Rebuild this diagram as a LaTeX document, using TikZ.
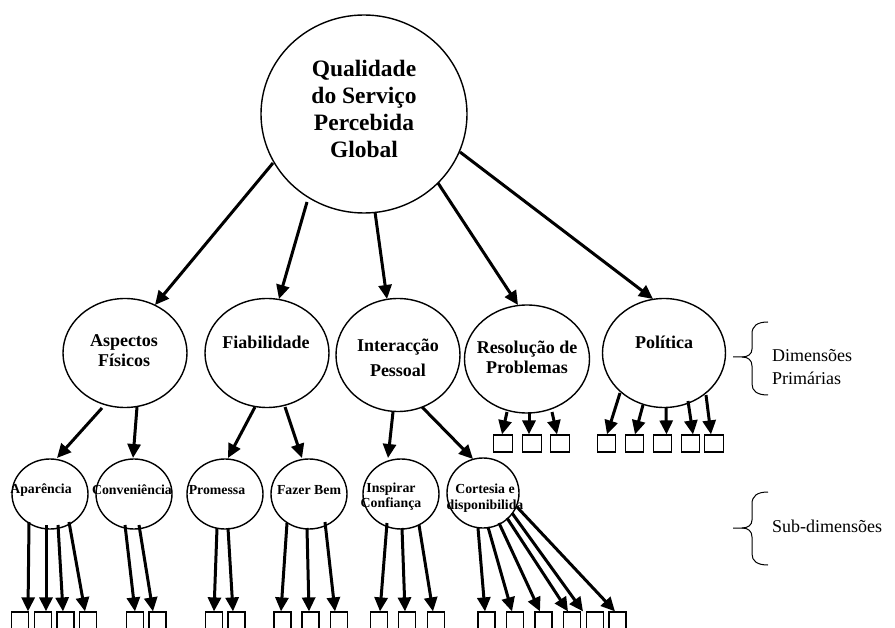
\documentclass[tikz,border=0pt]{standalone}
\usepackage{fontspec}
\setmainfont{Liberation Serif}
\usetikzlibrary{arrows.meta,calc,shapes.geometric}
\begin{document}
\begin{tikzpicture}[x=1pt,y=-1pt,
  circ/.style={draw,ellipse,line width=1.4pt,inner sep=0pt},
  big/.style={circ,minimum width=206pt,minimum height=198pt},
  mid/.style={circ,minimum width=124pt,minimum height=109pt},
  sml/.style={circ,minimum width=76pt,minimum height=70pt},
  bigtxt/.style={align=center,inner sep=0pt,font=\fontsize{23.5}{27}\selectfont\bfseries},
  midtxt/.style={align=center,inner sep=0pt,font=\fontsize{18}{20}\selectfont\bfseries},
  smltxt/.style={align=center,inner sep=0pt,font=\fontsize{13.8}{16}\selectfont\bfseries},
  side/.style={align=left,inner sep=0pt,font=\fontsize{18}{23}\selectfont},
  box/.style={draw,line width=1.2pt,minimum width=17pt,minimum height=17pt,inner sep=0pt},
  wbox/.style={box,minimum width=18.5pt},
  arr/.style={line width=3pt,-{Triangle[length=14pt,width=13pt]}},
  brace/.style={line width=1pt},
]
\useasboundingbox (0,0) rectangle (895,628);

% top
\node[big] (q) at (364,114) {};
\node[bigtxt] (qt) at (364,109) {Qualidade\\do Serviço\\Percebida\\Global};

% primary dimensions
\node[mid] (asp) at (125,353) {};
\node[mid] (fia) at (267,353) {};
\node[mid,minimum height=113pt] (int) at (398,355) {};
\node[mid,minimum width=125pt,minimum height=108pt] (res) at (527,359) {};
\node[mid,minimum width=123pt] (pol) at (664,353) {};
\node[midtxt] (aspt) at (124,351) {Aspectos\\Físicos};
\node[midtxt] (fiat) at (266,342) {Fiabilidade};
\node[midtxt,font=\fontsize{18}{24.5}\selectfont\bfseries] (intt) at (398,358) {Interacção\\Pessoal};
\node[midtxt] (rest) at (527,357) {Resolução de\\Problemas};
\node[midtxt] (polt) at (664,342) {Política};

% sub-dimensions
\node[sml] (apa) at (50,494) {};
\node[sml] (con) at (134,494) {};
\node[sml] (pro) at (225,494) {};
\node[sml] (faz) at (309,494) {};
\node[sml] (ins) at (401,494) {};
\node[sml,minimum width=72pt] (cor) at (483,493) {};
\node[smltxt] (apat) at (41,490) {Aparência};
\node[smltxt] (cont) at (132,490) {Conveniência};
\node[smltxt] (prot) at (217,490) {Promessa};
\node[smltxt] (fazt) at (309,490) {Fazer Bem};
\node[smltxt,font=\fontsize{13.8}{15}\selectfont\bfseries] (inst) at (391,497) {Inspirar\\Confiança};
\node[smltxt] (cort) at (485,498) {Cortesia e\\disponibilida};

% boxes under primary dimensions
\foreach \n/\x in {r1/503,r2/532,r3/560} \node[wbox] (\n) at (\x,443.5) {};
\foreach \n/\x in {p1/606.5,p2/634.5,p3/662.5,p4/690.5,p5/714} \node[wbox] (\n) at (\x,443.5) {};

% boxes at bottom
\foreach \n/\x in {a1/20,a2/43,a3/65.5,a4/88,c1/135,c2/157.5,m1/214,m2/236.5,f1/282.5,f2/310.5,f3/339,i1/379,i2/407,i3/436,k1/486.5,k2/515,k3/543.5,k4/572,k5/595,k6/617.5}
  \node[box] (\n) at (\x,620.5) {};

% top arrows
\draw[arr] ($(q)+(-91,49)$) -- ($(asp)+(30,-48)$);
\draw[arr] ($(q)+(-57,88)$) -- ($(fia)+(12,-54)$);
\draw[arr] ($(q)+(11,98)$) -- ($(int)+(-11,-56)$);
\draw[arr] ($(q)+(74,69)$) -- ($(res)+(-9,-54)$);
\draw[arr] ($(q)+(96,38)$) -- ($(pol)+(-11,-54)$);

% primary to sub arrows
\draw[arr] ($(asp)+(-23,55)$) -- ($(apa)+(7,-36)$);
\draw[arr] ($(asp)+(12,54)$) -- ($(con)+(-1,-36)$);
\draw[arr] ($(fia)+(-12,54)$) -- ($(pro)+(3,-36)$);
\draw[arr] ($(fia)+(18,54)$) -- ($(faz)+(-7,-36)$);
\draw[arr] ($(int)+(-5,57)$) -- ($(ins)+(-13,-36)$);
\draw[arr] ($(int)+(24,52)$) -- ($(cor)+(-10,-34)$);

% resolution and policy items
\draw[arr] ($(res)+(-20,53)$) -- ([xshift=-1pt]r1.north);
\draw[arr] ($(res)+(2,53)$) -- ([xshift=-3pt]r2.north);
\draw[arr] ($(res)+(25,53)$) -- ([xshift=-3pt]r3.north);
\draw[arr] ($(pol)+(-44,40)$) -- ([xshift=0.5pt]p1.north);
\draw[arr] ($(pol)+(-21,52)$) -- ([xshift=0.5pt]p2.north);
\draw[arr] ($(pol)+(2,55)$) -- ([xshift=4pt]p3.north);
\draw[arr] ($(pol)+(24,48)$) -- ([xshift=2.5pt]p4.north);
\draw[arr] ($(pol)+(42,42)$) -- ([xshift=-3pt]p5.north);

% bottom items
\draw[arr] ($(apa)+(-21,28)$) -- ([xshift=8pt]a1.north);
\draw[arr] ($(apa)+(-4,31)$) -- ([xshift=3pt]a2.north);
\draw[arr] ($(apa)+(8,31)$) -- ([xshift=-2.5pt]a3.north);
\draw[arr] ($(apa)+(19,28)$) -- ([xshift=-3pt]a4.north);
\draw[arr] ($(con)+(-9,31)$) -- (c1.north);
\draw[arr] ($(con)+(5,31)$) -- ([xshift=-4.5pt]c2.north);
\draw[arr] ($(pro)+(-8,34)$) -- (m1.north);
\draw[arr] ($(pro)+(3,34)$) -- ([xshift=-3.5pt]m2.north);
\draw[arr] ($(faz)+(-22,29)$) -- ([xshift=-1.5pt]f1.north);
\draw[arr] ($(faz)+(-2,34)$) -- ([xshift=-1.5pt]f2.north);
\draw[arr] ($(faz)+(16,28)$) -- ([xshift=-4pt]f3.north);
\draw[arr] ($(ins)+(-14,29)$) -- ([xshift=1pt]i1.north);
\draw[arr] ($(ins)+(1,34)$) -- ([xshift=-2pt]i2.north);
\draw[arr] ($(ins)+(18,31)$) -- ([xshift=-3pt]i3.north);
\draw[arr] ($(cor)+(-5,35)$) -- ([xshift=-1.5pt]k1.north);
\draw[arr] ($(cor)+(5,34)$) -- ([xshift=-3pt]k2.north);
\draw[arr] ($(cor)+(16,30)$) -- ([xshift=-3.5pt]k3.north);
\draw[arr] ($(cor)+(24,25)$) -- ([xshift=-4pt]k4.north);
\draw[arr] ($(cor)+(29,20)$) -- ([xshift=-12pt]k5.north);
\draw[arr] ($(cor)+(34,14)$) -- ([xshift=-2.5pt]k6.north);

% braces and side labels
\draw[brace] (768,322) .. controls (757,322) and (752,326) .. (752,334) -- (752,349)
  .. controls (752,354) and (748,357) .. (742,357) -- (733,357);
\draw[brace] (742,357) .. controls (748,357) and (752,360) .. (752,366) -- (752,384)
  .. controls (752,391) and (757,395) .. (768,395);
\node[side,anchor=north west] (dp) at (772,349) {Dimensões\\Primárias};

\draw[brace] (768,492) .. controls (757,492) and (752,496) .. (752,504) -- (752,520)
  .. controls (752,525) and (748,528) .. (742,528) -- (733,528);
\draw[brace] (742,528) .. controls (748,528) and (752,531) .. (752,537) -- (752,554)
  .. controls (752,561) and (757,565) .. (768,565);
\node[side,anchor=base west] (sd) at (772,532) {Sub-dimensões};
\end{tikzpicture}
\end{document}
